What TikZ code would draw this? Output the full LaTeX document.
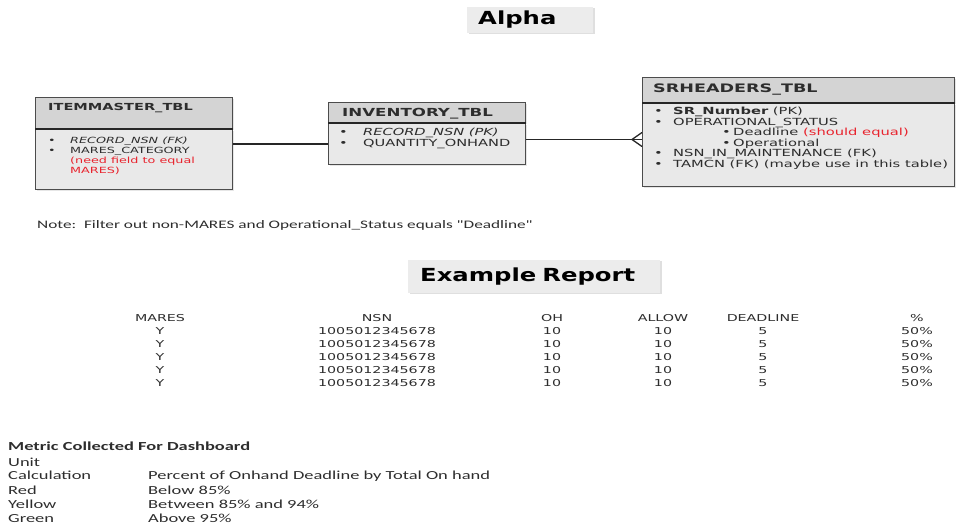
\documentclass[tikz,border=0pt]{standalone}
\usepackage{fontspec}
\usepackage{xcolor}
\usetikzlibrary{positioning, shadows}
\newfontfamily\boxfont{DejaVu Sans}[FakeStretch=1.5]
\newfontfamily\notefont{Carlito}[FakeStretch=1.5]
\newfontfamily\titlefont{DejaVu Sans}[FakeStretch=1.35]
\definecolor{errred}{RGB}{232,36,46}
\definecolor{headgray}{RGB}{212,212,212}
\definecolor{bodygray}{RGB}{233,233,233}
\definecolor{titlegray}{RGB}{236,236,236}
\definecolor{inkgray}{RGB}{45,45,45}
\newcommand{\bul}[1]{\makebox[#1][l]{•}}

\begin{document}
\begin{tikzpicture}[x=1pt, y=-1pt,
    tblhead/.style={draw=black!70, line width=1pt, fill=headgray, anchor=north west, inner sep=0pt,
                    drop shadow={shadow xshift=1.5pt, shadow yshift=-1.5pt, opacity=.2}},
    tblbody/.style={tblhead, fill=bodygray},
    sepline/.style={line width=1.8pt, black!85},
    headtxt/.style={anchor=base west, inner sep=0pt, text=inkgray},
    items/.style={anchor=north west, inner sep=0pt, align=left, text=inkgray},
    link/.style={line width=1.3pt, black!85},
    titlebox/.style={fill=titlegray, anchor=west, inner xsep=11pt, inner ysep=0pt, align=left,
                     font=\titlefont\bfseries\fontsize{18}{20}\selectfont,
                     drop shadow={shadow xshift=2pt, shadow yshift=-1pt, opacity=.25}},
    cell/.style={anchor=base, inner sep=0pt, text=inkgray, font=\boxfont\fontsize{9.5}{11}\selectfont},
    metric/.style={anchor=base west, inner sep=0pt, text=inkgray, font=\notefont\fontsize{12.3}{14}\selectfont}
  ]
    \useasboundingbox (0,0) rectangle (956,529);

    % titles
    \node[titlebox, minimum height=26pt, text width=104pt] (alpha) at (467,20) {Alpha};
    \node[titlebox, minimum height=33pt, text width=228pt, inner xsep=12pt] (report) at (408,276.5) {Example Report};

    % tables
    \node[tblhead, minimum width=197pt, minimum height=31pt] (itemhead) at (35,97) {};
    \node[tblbody, minimum width=197pt, minimum height=60pt] (itembody) at (itemhead.south west) {};
    \draw[sepline] (itembody.north west) -- (itembody.north east);
    \node[headtxt, font=\boxfont\bfseries\fontsize{9.7}{11}\selectfont] (itemname) at (48,111) {ITEMMASTER\_TBL};
    \node[items, font=\boxfont\fontsize{8.5}{10}\selectfont] (itemcols) at (48,136.6)
      {\bul{22pt}\textit{RECORD\_NSN (FK)}\\
       \bul{22pt}MARES\_CATEGORY\\
       \hspace*{22pt}\textcolor{errred}{(need field to equal}\\
       \hspace*{22pt}\textcolor{errred}{MARES)}};

    \node[tblhead, minimum width=197pt, minimum height=20pt] (invhead) at (328,102) {};
    \node[tblbody, minimum width=197pt, minimum height=41pt] (invbody) at (invhead.south west) {};
    \draw[sepline] (invbody.north west) -- (invbody.north east);
    \node[headtxt, font=\boxfont\bfseries\fontsize{11.1}{13}\selectfont] (invname) at (342,116.5) {INVENTORY\_TBL};
    \node[items, font=\boxfont\fontsize{9.75}{11}\selectfont] (invcols) at (339,128.2)
      {\bul{24pt}\textit{RECORD\_NSN (PK)}\\
       \bul{24pt}QUANTITY\_ONHAND};

    \node[tblhead, minimum width=312pt, minimum height=25pt] (srhead) at (642,77) {};
    \node[tblbody, minimum width=312pt, minimum height=83pt] (srbody) at (srhead.south west) {};
    \draw[sepline] (srbody.north west) -- (srbody.north east);
    \node[headtxt, font=\boxfont\bfseries\fontsize{11.7}{13}\selectfont] (srname) at (653,92.3) {SRHEADERS\_TBL};
    \node[items, font=\boxfont\fontsize{9.8}{9.4}\selectfont] (srcols) at (654,106.9)
      {\bul{19pt}\textbf{SR\_Number} (PK)\\
       \bul{19pt}OPERATIONAL\_STATUS\\
       \hspace*{68pt}\bul{11pt}Deadline \textcolor{errred}{(should equal)}\\
       \hspace*{68pt}\bul{11pt}Operational\\
       \bul{19pt}NSN\_IN\_MAINTENANCE (FK)\\
       \bul{19pt}TAMCN (FK) (maybe use in this table)};

    % relationships
    \coordinate (srin) at ([yshift=5.5pt]srbody.west);
    \coordinate (crow) at ([xshift=-10pt]srin);
    \draw[link] (itembody.east |- invbody.west) -- (invbody.west);
    \draw[link] (invbody.east |- srin) -- (srin);
    \draw[link] (crow) -- ([yshift=7pt]srin);
    \draw[link] (crow) -- ([yshift=-7pt]srin);

    \node[anchor=base west, inner sep=0pt, text=inkgray, font=\notefont\fontsize{11.5}{13}\selectfont] (note) at (37,228.7)
      {Note:\ \ Filter out non-MARES and Operational\_Status equals "Deadline"};

    % report rows
    \foreach \cx/\hd/\val [count=\c] in {160/MARES/Y, 377/NSN/1005012345678, 552/OH/10,
                                        663/ALLOW/10, 763/DEADLINE/5, 917/\%/50\%} {
      \node[cell] (hd\c) at (\cx,321.5) {\hd};
      \foreach \r in {1,...,5}
        \node[cell] (row\r-\c) at (\cx,321.5+13*\r) {\val};
    }

    % dashboard metric
    \node[metric, font=\notefont\bfseries\fontsize{12.3}{14}\selectfont] (mtitle) at (8,450) {Metric Collected For Dashboard};
    \node[metric] (unit) at (8,466) {Unit};
    \node[metric] (calc) at (8,479.5) {Calculation};
    \node[metric] (red) at (8,494) {Red};
    \node[metric] (yellow) at (8,508) {Yellow};
    \node[metric] (green) at (8,522.5) {Green};
    \node[metric] (calcval) at (148,479.5) {Percent of Onhand Deadline by Total On hand};
    \node[metric] (redval) at (148,494) {Below 85\%};
    \node[metric] (yellowval) at (148,508) {Between 85\% and 94\%};
    \node[metric] (greenval) at (148,522.5) {Above 95\%};
\end{tikzpicture}
\end{document}
